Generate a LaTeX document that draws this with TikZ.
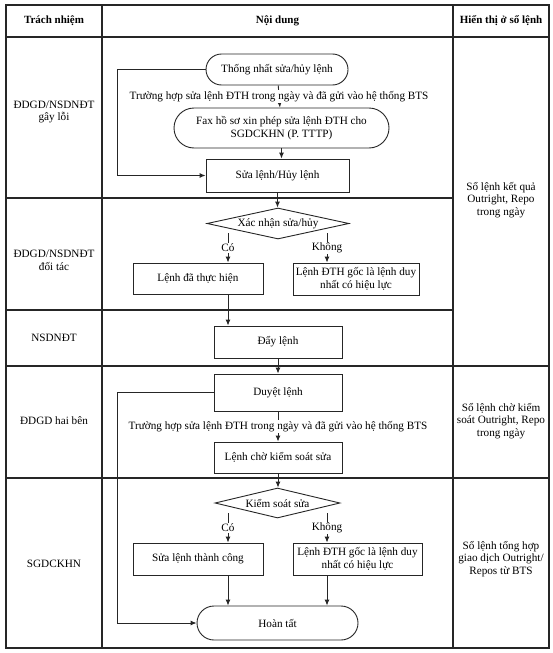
\documentclass[tikz,border=0pt]{standalone}
\usepackage{fontspec}
\setmainfont{Liberation Serif}
\usetikzlibrary{shapes.geometric,arrows.meta,calc}
\begin{document}
\begin{tikzpicture}[x=1pt,y=-1pt,
  font=\fontsize{11.2}{12.8}\selectfont,
  tline/.style={line width=1.1pt,draw=black!85},
  fbox/.style={draw=black!85,line width=0.9pt,align=center,inner sep=1pt},
  stadium/.style={fbox,rounded corners=#1},
  dia/.style={draw=black!85,line width=0.9pt,diamond,aspect=4.6,inner sep=0pt,align=center},
  arr/.style={draw=black!85,line width=0.9pt,-{Latex[length=6pt,width=5pt]}},
  lbl/.style={fill=white,inner sep=1pt},
  cell/.style={align=center,inner sep=0pt},
  head/.style={cell,font=\fontsize{11}{12.8}\selectfont\bfseries}
]
\useasboundingbox (0,0) rectangle (553,653);
\fill[white] (0,0) rectangle (553,653);
% table
\draw[tline] (6,5) rectangle (549,648);
\draw[tline] (6,37) -- (549,37);
\draw[tline] (102,5) -- (102,648);
\draw[tline] (453,5) -- (453,648);
\draw[tline] (6,198) -- (453,198);
\draw[tline] (6,310) -- (453,310);
\draw[tline] (6,366) -- (549,366);
\draw[tline] (6,478) -- (549,478);
% headers
\node[head] (h1) at (54,21) {Trách nhiệm};
\node[head] (h2) at (277.5,21) {Nội dung};
\node[head] (h3) at (501,21) {Hiển thị ở sổ lệnh};
% left column
\node[cell] (r1) at (54,112) {ĐDGD/NSDNĐT\\gây lỗi};
\node[cell] (r2) at (54,260) {ĐDGD/NSDNĐT\\đối tác};
\node[cell] (r3) at (54,338) {NSDNĐT};
\node[cell] (r4) at (54,421) {ĐDGD hai bên};
\node[cell] (r5) at (54,564) {SGDCKHN};
% right column
\node[cell] (k1) at (501,200) {Sổ lệnh kết quả\\Outright, Repo\\trong ngày};
\node[cell] (k2) at (501,421) {Sổ lệnh chờ kiểm\\soát Outright, Repo\\trong ngày};
\node[cell] (k3) at (501,559) {Sổ lệnh tổng hợp\\giao dịch Outright/\\Repos từ BTS};
% flow nodes
\node[stadium=15.5pt,minimum width=142pt,minimum height=31pt] (t1) at (277,69.5) {Thống nhất sửa/hủy lệnh};
\node[stadium=20pt,minimum width=215pt,minimum height=40pt] (fax) at (281.5,128) {Fax hồ sơ xin phép sửa lệnh ĐTH cho\\SGDCKHN (P. TTTP)};
\node[fbox,minimum width=143pt,minimum height=33pt] (s1) at (277.5,175.5) {Sửa lệnh/Hủy lệnh};
\node[dia,minimum width=142pt,minimum height=31pt] (d1) at (278,223.5) {Xác nhận sửa/hủy};
\node[fbox,minimum width=130pt,minimum height=31pt] (l1) at (198,278.5) {Lệnh đã thực hiện};
\node[fbox,minimum width=126pt,minimum height=32pt] (q1) at (356,279) {Lệnh ĐTH gốc là lệnh duy\\nhất có hiệu lực};
\node[fbox,minimum width=128pt,minimum height=32pt] (dl) at (278,342) {Đẩy lệnh};
\node[fbox,minimum width=128pt,minimum height=37pt] (du) at (278,392.5) {Duyệt lệnh};
\node[fbox,minimum width=128pt,minimum height=31pt] (lc) at (278,457.5) {Lệnh chờ kiểm soát sửa};
\node[dia,minimum width=125pt,minimum height=30pt] (d2) at (277.5,503) {Kiểm soát sửa};
\node[fbox,minimum width=130pt,minimum height=32pt] (l2) at (198,559) {Sửa lệnh thành công};
\node[fbox,minimum width=129pt,minimum height=32pt] (q2) at (357.5,559) {Lệnh ĐTH gốc là lệnh duy\\nhất có hiệu lực};
\node[stadium=17pt,minimum width=161pt,minimum height=34pt] (ht) at (277.5,623) {Hoàn tất};
% branch coordinates
\coordinate (c1) at (228,233);
\coordinate (c2) at (327,233);
\coordinate (c3) at (228,513);
\coordinate (c4) at (327,513);
\coordinate (g1) at (117,0);
% connectors
\draw[arr] (t1) -- node[lbl]{Trường hợp sửa lệnh ĐTH trong ngày và đã gửi vào hệ thống BTS} (fax);
\draw[arr] (fax) -- (fax |- s1.north);
\draw[arr] (t1.west) -- (g1 |- t1.west) -- (g1 |- s1.west) -- (s1.west);
\draw[arr] (s1) -- (s1 |- d1.north);
\draw[arr] (c1) -- node[lbl]{Có} (c1 |- l1.north);
\draw[arr] (c2) -- node[lbl]{Không} (c2 |- q1.north);
\draw[arr] (c1 |- l1.south) -- (c1 |- dl.north);
\draw[arr] (dl) -- (du);
\draw[arr] (du) -- node[lbl]{Trường hợp sửa lệnh ĐTH trong ngày và đã gửi vào hệ thống BTS} (lc);
\draw[arr] (lc) -- (lc |- d2.north);
\draw[arr] (c3) -- node[lbl]{Có} (c3 |- l2.north);
\draw[arr] (c4) -- node[lbl]{Không} (c4 |- q2.north);
\draw[arr] (c3 |- l2.south) -- (c3 |- ht.north);
\draw[arr] (c4 |- q2.south) -- (c4 |- ht.north);
\draw[arr] (du.west) -- (g1 |- du.west) -- (g1 |- ht.west) -- (ht.west);
\end{tikzpicture}
\end{document}
